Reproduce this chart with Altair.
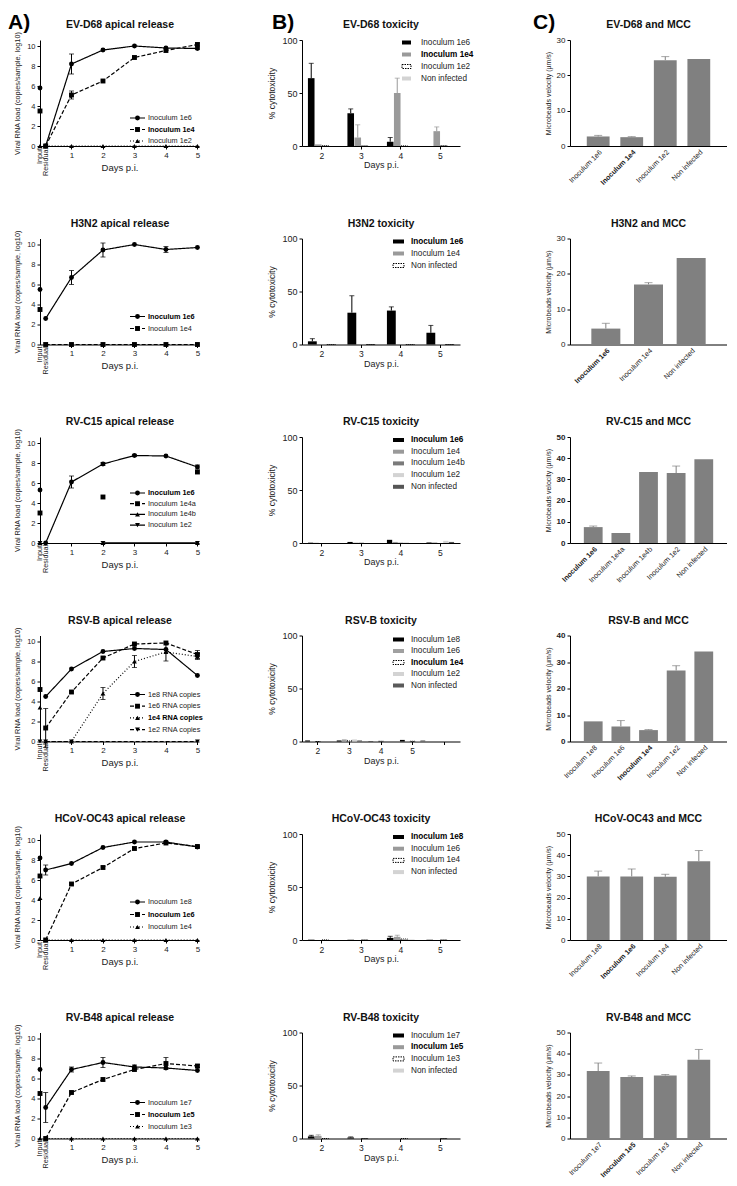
import altair as alt
import pandas as pd

FONT = "Liberation Sans"
INK = "#222222"

# ---------------- Column A : viral RNA load ----------------
A_DAYS = ["Input", "Residual", "1", "2", "3", "4", "5"]
A_POS = [0, 0.18, 1, 2, 3, 4, 5]

EVD68_A_SERIES = ["Inoculum 1e6", "Inoculum 1e4", "Inoculum 1e2"]
EVD68_A_1E6 = [5.8, 0, 8.2, 9.6, 10.0, 9.8, 9.75]
EVD68_A_1E6_ERR = [0, 0, 1.0, 0, 0, 0, 0.1]
EVD68_A_1E4 = [3.5, 0, 5.1, 6.5, 8.85, 9.55, 10.15]
EVD68_A_1E4_ERR = [0, 0, 0.4, 0, 0, 0, 0.15]
EVD68_A_1E2 = [0, 0, 0, 0, 0, 0, 0]
EVD68_A_1E2_ERR = [0, 0, 0, 0, 0, 0, 0]

H3N2_A_SERIES = ["Inoculum 1e6", "Inoculum 1e4"]
H3N2_A_1E6 = [5.5, 2.6, 6.7, 9.45, 10.0, 9.5, 9.7]
H3N2_A_1E6_ERR = [0, 0, 0.7, 0.7, 0, 0.3, 0]
H3N2_A_1E4 = [3.5, 0, 0, 0, 0, 0, 0]
H3N2_A_1E4_ERR = [0, 0, 0, 0, 0, 0, 0]

RVC15_A_SERIES = ["Inoculum 1e6", "Inoculum 1e4a", "Inoculum 1e4b", "Inoculum 1e2"]
RVC15_A_1E6 = [5.3, 0, 6.1, 7.9, 8.75, 8.7, 7.6]
RVC15_A_1E6_ERR = [0, 0, 0.6, 0.15, 0.1, 0, 0.2]
RVC15_A_1E4A = [3.0, None, None, 4.6, None, None, 7.1]
RVC15_A_1E4A_ERR = [0, 0, 0, 0, 0, 0, 0]
RVC15_A_1E4B = [0, None, None, 0, None, None, 0]
RVC15_A_1E4B_ERR = [0, 0, 0, 0, 0, 0, 0]
RVC15_A_1E2 = [0, None, None, 0, None, None, 0]
RVC15_A_1E2_ERR = [0, 0, 0, 0, 0, 0, 0]

RSVB_A_SERIES = ["1e8 RNA copies", "1e6 RNA copies", "1e4 RNA copies", "1e2 RNA copies"]
RSVB_A_1E8 = [None, 4.5, 7.25, 9.0, 9.3, 9.2, 6.6]
RSVB_A_1E8_ERR = [0, 0, 0, 0, 0, 0, 0]
RSVB_A_1E6 = [5.2, 1.35, 4.95, 8.35, 9.75, 9.85, 8.7]
RSVB_A_1E6_ERR = [0, 1.95, 0, 0, 0, 0, 0.4]
RSVB_A_1E4 = [3.4, 0, 0, 4.8, 8.0, 8.95, 8.5]
RSVB_A_1E4_ERR = [0, 0, 0, 0.6, 0.6, 0.9, 0.3]
RSVB_A_1E2 = [0, 0, 0, None, None, None, 0]
RSVB_A_1E2_ERR = [0, 0, 0, 0, 0, 0, 0]

OC43_A_SERIES = ["Inoculum 1e8", "Inoculum 1e6", "Inoculum 1e4"]
OC43_A_1E8 = [8.2, 7.0, 7.65, 9.25, 9.8, 9.8, 9.3]
OC43_A_1E8_ERR = [0, 0.5, 0, 0, 0, 0, 0]
OC43_A_1E6 = [6.4, 0, 5.6, 7.25, 9.15, 9.7, 9.35]
OC43_A_1E6_ERR = [0, 0, 0, 0, 0, 0, 0]
OC43_A_1E4 = [4.2, 0, 0, 0, 0, 0, 0]
OC43_A_1E4_ERR = [0, 0, 0, 0, 0, 0, 0]

RVB48_A_SERIES = ["Inoculum 1e7", "Inoculum 1e5", "Inoculum 1e3"]
RVB48_A_1E7 = [6.9, 3.1, 6.9, 7.6, 7.15, 7.05, 6.8]
RVB48_A_1E7_ERR = [0, 1.5, 0.25, 0.5, 0.2, 0, 0]
RVB48_A_1E5 = [4.5, 0, 4.6, 5.9, 6.9, 7.5, 7.25]
RVB48_A_1E5_ERR = [0, 0, 0, 0, 0, 0.6, 0.15]
RVB48_A_1E3 = [0, 0, 0, 0, 0, 0, 0]
RVB48_A_1E3_ERR = [0, 0, 0, 0, 0, 0, 0]

# ---------------- Column B : cytotoxicity ----------------
B_DAYS = ["2", "3", "4", "5"]

EVD68_B_SERIES = ["Inoculum 1e6", "Inoculum 1e4", "Inoculum 1e2", "Non infected"]
EVD68_B_VALUES = [[64, 31, 4, 0], [1.5, 8, 50, 14], [0.3, 0, 0, 0.3], [0, 0, 0, 0]]
EVD68_B_ERRORS = [[14, 4, 4, 0], [0, 12, 14, 4], [0, 0, 0, 0], [0, 0, 0, 0]]

H3N2_B_SERIES = ["Inoculum 1e6", "Inoculum 1e4", "Non infected"]
H3N2_B_VALUES = [[3, 30, 32, 11], [0, 0, 0, 0.5], [0, 0, 0, 0]]
H3N2_B_ERRORS = [[2.5, 16, 3.5, 7], [0, 0, 0, 0], [0, 0, 0, 0]]

RVC15_B_SERIES = ["Inoculum 1e6", "Inoculum 1e4", "Inoculum 1e4b", "Inoculum 1e2", "Non infected"]
RVC15_B_VALUES = [[0.3, 1, 3, 0.5], [0.2, 0.3, 1, 0.5], [0, 0.3, 0.3, 0], [0, 0, 0.5, 2], [0, 0, 0, 1]]
RVC15_B_ERRORS = [[0, 0, 0, 0], [0, 0, 0, 0], [0, 0, 0, 0], [0, 0, 0, 0], [0, 0, 0, 0]]

RSVB_B_SERIES = ["Inoculum 1e8", "Inoculum 1e6", "Inoculum 1e4", "Inoculum 1e2", "Non infected"]
RSVB_B_VALUES = [[1, 1, 0.3, 1.5], [0.3, 2, 0.3, 0.5], [0, 1, 0.3, 0.3], [0, 2, 0, 0.3], [0, 1, 0, 1]]
RSVB_B_ERRORS = [[0, 0, 0, 0], [0, 0, 0, 0], [0, 2, 0, 0], [0, 0, 0, 0], [0, 0, 0, 0]]

OC43_B_SERIES = ["Inoculum 1e8", "Inoculum 1e6", "Inoculum 1e4", "Non infected"]
OC43_B_VALUES = [[0.3, 0.3, 2, 0.3], [0, 0, 3, 0], [0, 0, 1, 0], [0, 0, 0.5, 0]]
OC43_B_ERRORS = [[0, 0, 1.5, 0], [0, 0, 1.5, 0], [0, 0, 0, 0], [0, 0, 0, 0]]

RVB48_B_SERIES = ["Inoculum 1e7", "Inoculum 1e5", "Inoculum 1e3", "Non infected"]
RVB48_B_VALUES = [[2, 1, 0, 0], [2.5, 0.5, 0, 0], [0, 0, 0, 0], [0, 0, 0, 0]]
RVB48_B_ERRORS = [[1, 0.5, 0, 0], [1, 0, 0, 0], [0, 0, 0, 0], [0, 0, 0, 0]]

# ---------------- Column C : mucociliary clearance ----------------
EVD68_C_CATS = ["Inoculum 1e6", "Inoculum 1e4", "Inoculum 1e2", "Non infected"]
EVD68_C_VALUES = [2.7, 2.5, 24.3, 24.6]
EVD68_C_ERRORS = [0.3, 0.15, 1.0, 0]

H3N2_C_CATS = ["Inoculum 1e6", "Inoculum 1e4", "Non infected"]
H3N2_C_VALUES = [4.5, 17.0, 24.5]
H3N2_C_ERRORS = [1.5, 0.5, 0]

RVC15_C_CATS = ["Inoculum 1e6", "Inoculum 1e4a", "Inoculum 1e4b", "Inoculum 1e2", "Non infected"]
RVC15_C_VALUES = [7.5, 4.7, 33.5, 33.0, 39.5]
RVC15_C_ERRORS = [0.5, 0, 0, 3.3, 0]

RSVB_C_CATS = ["Inoculum 1e8", "Inoculum 1e6", "Inoculum 1e4", "Inoculum 1e2", "Non infected"]
RSVB_C_VALUES = [7.6, 5.7, 4.3, 26.8, 34.0]
RSVB_C_ERRORS = [0, 2.2, 0.2, 1.8, 0]

OC43_C_CATS = ["Inoculum 1e8", "Inoculum 1e6", "Inoculum 1e4", "Non infected"]
OC43_C_VALUES = [30.0, 30.0, 29.8, 37.2]
OC43_C_ERRORS = [2.5, 3.5, 1.2, 5.0]

RVB48_C_CATS = ["Inoculum 1e7", "Inoculum 1e5", "Inoculum 1e3", "Non infected"]
RVB48_C_VALUES = [31.8, 29.0, 29.7, 37.2]
RVB48_C_ERRORS = [3.8, 0.5, 0.5, 4.8]

# ---------------- styles ----------------
SOLID, DASHED, DOTTED = [1, 0], [4, 2], [1, 2]
W_A, W_B, W_BR, W_C, H = 159, 165, 158, 157, 106
GRAY_C = "#808080"
PAT = "pattern"


def title_layer(text, cx):
    return alt.Chart(alt.Data(values=[{"t": text}])).mark_text(
        font=FONT, fontSize=10.5, fontWeight="bold", align="center", baseline="middle", color="#111"
    ).encode(x=alt.value(cx), y=alt.value(-15), text="t:N")


def letter_layers(letter, dx):
    txt = alt.Chart(alt.Data(values=[{"t": letter}])).mark_text(
        font=FONT, fontSize=21, fontWeight="bold", align="left", baseline="top", color="black"
    ).encode(x=alt.value(dx), y=alt.value(-28), text="t:N")
    # transparent spacer so the letter's full text box stays inside the page
    spacer = alt.Chart(alt.Data(values=[{"t": letter}])).mark_rule(opacity=0).encode(
        x=alt.value(dx), x2=alt.value(dx + 10), y=alt.value(-31.5))
    return [txt, spacer]


def panel_a(ttl, series, values, errors, lines, dashes, shapes, bold, ly0, ldy, letter=None):
    rows = []
    for s, vals, errs in zip(series, values, errors):
        for lab, pos, v, e in zip(A_DAYS, A_POS, vals, errs):
            if v is None:
                continue
            rows.append({"series": s, "day": lab, "x": pos, "y": v, "lo": v - e, "hi": v + e,
                         "err": e, "line": (lab != "Input") and (s in lines)})
    df = pd.DataFrame(rows)
    xs = alt.Scale(domain=[0, 5.05], nice=False, zero=False)
    ys = alt.Scale(domain=[0, 10.6], nice=False)
    xax = alt.Axis(values=[1, 2, 3, 4, 5], format="d", title="Days p.i.", labelFontSize=8,
                   titleFontSize=9.5, labelPadding=2, titlePadding=3)
    yax = alt.Axis(values=[0, 2, 4, 6, 8, 10], format="d", title="Viral RNA load (copies/sample, log10)",
                   labelFontSize=7.5, titleFontSize=7.3, labelPadding=2, titlePadding=5)
    X = alt.X("x:Q", scale=xs, axis=xax)
    dash = alt.StrokeDash("series:N", scale=alt.Scale(domain=series, range=dashes), legend=None)
    shape = alt.Shape("series:N", scale=alt.Scale(domain=series, range=shapes), legend=None)
    base = alt.Chart(df)
    line = base.transform_filter("datum.line").mark_line(color="black", strokeWidth=1.2).encode(
        X, alt.Y("y:Q", scale=ys, axis=yax), dash)
    pts = base.mark_point(filled=True, color="black", size=24, opacity=1).encode(
        X, alt.Y("y:Q", scale=ys, axis=yax), shape)
    eb = base.transform_filter("datum.err > 0")
    erule = eb.mark_rule(color="black", strokeWidth=1).encode(
        X, alt.Y("lo:Q", scale=ys, axis=yax), alt.Y2("hi:Q"))
    ecap_hi = eb.mark_tick(orient="horizontal", size=5, thickness=1, color="black").encode(
        X, alt.Y("hi:Q", scale=ys, axis=yax))
    ecap_lo = eb.mark_tick(orient="horizontal", size=5, thickness=1, color="black").encode(
        X, alt.Y("lo:Q", scale=ys, axis=yax))
    labdf = pd.DataFrame({"x": A_POS[:2], "lab": A_DAYS[:2]})
    labs = alt.Chart(labdf).mark_text(angle=270, align="right", baseline="middle", fontSize=7.2,
                                      font=FONT, color=INK).encode(X, y=alt.value(H + 2), text="lab:N")
    ld = pd.DataFrame({"series": series, "ly": [ly0 + i * ldy for i in range(len(series))],
                       "bold": [s == bold for s in series]})
    LY = alt.Y("ly:Q", scale=None, axis=None)
    lrule = alt.Chart(ld).mark_rule(color="black", strokeWidth=1.2).encode(
        x=alt.value(90), x2=alt.value(105), y=LY, strokeDash=dash)
    lpt = alt.Chart(ld).mark_point(filled=True, color="black", size=24, opacity=1).encode(
        x=alt.value(97.5), y=LY, shape=shape)
    ltn = alt.Chart(ld).transform_filter("!datum.bold").mark_text(
        align="left", baseline="middle", fontSize=7.3, font=FONT, color=INK).encode(
        x=alt.value(108), y=LY, text="series:N")
    ltb = alt.Chart(ld).transform_filter("datum.bold").mark_text(
        align="left", baseline="middle", fontSize=7.3, font=FONT, color="black", fontWeight="bold").encode(
        x=alt.value(108), y=LY, text="series:N")
    layers = [line, erule, ecap_hi, ecap_lo, pts, labs, lrule, lpt, ltn, ltb, title_layer(ttl, 80)]
    if letter:
        layers += letter_layers(letter, -32)
    return alt.layer(*layers).properties(width=W_A, height=H)


def panel_b(ttl, series, colors, values, errors, bold, days, lx, ly0, ldy, pi=0.3, po=0.15, letter=None):
    rows = []
    for s, vals, errs in zip(series, values, errors):
        for d, v, e in zip(B_DAYS, vals, errs):
            rows.append({"series": s, "day": d, "v": v, "hi": v + e, "err": e,
                         "pattern": colors[series.index(s)] == PAT})
    df = pd.DataFrame(rows)
    rng = ["white" if c == PAT else c for c in colors]
    X = alt.X("day:N", scale=alt.Scale(domain=days, range=[0, W_BR], paddingInner=pi, paddingOuter=po),
              axis=alt.Axis(title="Days p.i.", labelAngle=0, labelFontSize=8.5, titleFontSize=9,
                            labelPadding=2, titlePadding=1))
    XO = alt.XOffset("series:N", scale=alt.Scale(domain=series, paddingInner=0.06))
    ys = alt.Scale(domain=[0, 100], nice=False)
    yax = alt.Axis(values=[0, 50, 100], title="% cytotoxicity", labelFontSize=9, titleFontSize=8.5,
                   labelPadding=2, titlePadding=5)
    C = alt.Color("series:N", scale=alt.Scale(domain=series, range=rng), legend=None)
    base = alt.Chart(df)
    bars = base.transform_filter("!datum.pattern").mark_bar().encode(X, XO, alt.Y("v:Q", scale=ys, axis=yax), C)
    pbars = base.transform_filter("datum.pattern").mark_bar(
        fill="white", stroke="black", strokeWidth=0.8, strokeDash=[1, 1]).encode(
        X, XO, alt.Y("v:Q", scale=ys, axis=yax))
    eb = base.transform_filter("datum.err > 0")
    erule = eb.mark_rule(strokeWidth=1).encode(X, XO, alt.Y("v:Q", scale=ys, axis=yax), alt.Y2("hi:Q"), C)
    ecap = eb.mark_tick(orient="horizontal", size=5, thickness=1).encode(
        X, XO, alt.Y("hi:Q", scale=ys, axis=yax), C)
    ld = pd.DataFrame({"series": series,
                       "y0": [ly0 + i * ldy - 2 for i in range(len(series))],
                       "y1": [ly0 + i * ldy + 2 for i in range(len(series))],
                       "ly": [ly0 + i * ldy for i in range(len(series))],
                       "bold": [s == bold for s in series],
                       "pattern": [c == PAT for c in colors]})
    sx0, sx1, tx = lx
    lsym = alt.Chart(ld).transform_filter("!datum.pattern").mark_rect().encode(
        x=alt.value(sx0), x2=alt.value(sx1), y=alt.Y("y0:Q", scale=None, axis=None), y2="y1:Q", color=C)
    lpat = alt.Chart(ld).transform_filter("datum.pattern").mark_rect(
        fill="white", stroke="black", strokeWidth=1, strokeDash=[1.5, 1]).encode(
        x=alt.value(sx0), x2=alt.value(sx1), y=alt.Y("y0:Q", scale=None, axis=None), y2="y1:Q")
    LY = alt.Y("ly:Q", scale=None, axis=None)
    ltn = alt.Chart(ld).transform_filter("!datum.bold").mark_text(
        align="left", baseline="middle", fontSize=8.2, font=FONT, color=INK).encode(
        x=alt.value(tx), y=LY, text="series:N")
    ltb = alt.Chart(ld).transform_filter("datum.bold").mark_text(
        align="left", baseline="middle", fontSize=8.2, font=FONT, color="black", fontWeight="bold").encode(
        x=alt.value(tx), y=LY, text="series:N")
    layers = [bars, pbars, erule, ecap, lsym, lpat, ltn, ltb, title_layer(ttl, W_BR / 2)]
    if letter:
        layers += letter_layers(letter, -30)
    return alt.layer(*layers).properties(width=W_B, height=H)


def panel_c(ttl, cats, values, errors, bold, ymax, bold_ticks=False, letter=None):
    df = pd.DataFrame({"cat": cats, "v": values, "hi": [v + e for v, e in zip(values, errors)], "err": errors})
    cond = {"condition": {"test": f"datum.value === '{bold}'", "value": "bold"}, "value": "normal"}
    X = alt.X("cat:N", sort=cats, scale=alt.Scale(domain=cats, paddingInner=0.32, paddingOuter=0.5),
              axis=alt.Axis(title=None, labelAngle=-45, labelAlign="right", labelBaseline="top",
                            labelFontSize=7.2, labelFontWeight=cond, ticks=False, labelPadding=2))
    ys = alt.Scale(domain=[0, ymax], nice=False)
    yax = alt.Axis(values=list(range(0, ymax + 1, 10)), title="Microbeads velocity (µm/s)", labelFontSize=8,
                   labelFontWeight="bold" if bold_ticks else "normal",
                   titleFontSize=7, labelPadding=2, titlePadding=5)
    base = alt.Chart(df)
    bars = base.mark_bar(color=GRAY_C).encode(X, alt.Y("v:Q", scale=ys, axis=yax))
    eb = base.transform_filter("datum.err > 0")
    erule = eb.mark_rule(color=GRAY_C, strokeWidth=1).encode(X, alt.Y("v:Q", scale=ys, axis=yax), alt.Y2("hi:Q"))
    ecap = eb.mark_tick(orient="horizontal", size=8, thickness=1, color=GRAY_C).encode(
        X, alt.Y("hi:Q", scale=ys, axis=yax))
    layers = [bars, erule, ecap, title_layer(ttl, W_C / 2)]
    if letter:
        layers += letter_layers(letter, -37)
    return alt.layer(*layers).properties(width=W_C, height=H)


P = []
# Row 1
P.append(panel_a("EV-D68 apical release", EVD68_A_SERIES,
                 [EVD68_A_1E6, EVD68_A_1E4, EVD68_A_1E2], [EVD68_A_1E6_ERR, EVD68_A_1E4_ERR, EVD68_A_1E2_ERR],
                 EVD68_A_SERIES, [SOLID, DASHED, DOTTED], ["circle", "square", "triangle-up"],
                 "Inoculum 1e4", 78, 11.5, letter="A)"))
P.append(panel_b("EV-D68 toxicity", EVD68_B_SERIES, ["#000000", "#9a9a9a", PAT, "#d3d3d3"],
                 EVD68_B_VALUES, EVD68_B_ERRORS, "Inoculum 1e4", B_DAYS, (100, 109, 119), 2.5, 12, letter="B)"))
P.append(panel_c("EV-D68 and MCC", EVD68_C_CATS, EVD68_C_VALUES, EVD68_C_ERRORS, "Inoculum 1e4", 30, letter="C)"))
# Row 2
P.append(panel_a("H3N2 apical release", H3N2_A_SERIES,
                 [H3N2_A_1E6, H3N2_A_1E4], [H3N2_A_1E6_ERR, H3N2_A_1E4_ERR],
                 H3N2_A_SERIES, [SOLID, DASHED], ["circle", "square"], "Inoculum 1e6", 78, 12))
P.append(panel_b("H3N2 toxicity", H3N2_B_SERIES, ["#000000", "#9a9a9a", PAT],
                 H3N2_B_VALUES, H3N2_B_ERRORS, "Inoculum 1e6", B_DAYS, (91, 102, 109), 3, 12))
P.append(panel_c("H3N2 and MCC", H3N2_C_CATS, H3N2_C_VALUES, H3N2_C_ERRORS, "Inoculum 1e6", 30))
# Row 3
P.append(panel_a("RV-C15 apical release", RVC15_A_SERIES,
                 [RVC15_A_1E6, RVC15_A_1E4A, RVC15_A_1E4B, RVC15_A_1E2],
                 [RVC15_A_1E6_ERR, RVC15_A_1E4A_ERR, RVC15_A_1E4B_ERR, RVC15_A_1E2_ERR],
                 ["Inoculum 1e6", "Inoculum 1e4b", "Inoculum 1e2"], [SOLID, DASHED, SOLID, SOLID],
                 ["circle", "square", "triangle-up", "triangle-down"], "Inoculum 1e6", 56, 10.7))
P.append(panel_b("RV-C15 toxicity", RVC15_B_SERIES, ["#000000", "#9a9a9a", "#7a7a7a", "#d3d3d3", "#555555"],
                 RVC15_B_VALUES, RVC15_B_ERRORS, "Inoculum 1e6", B_DAYS, (91, 102, 109), 3, 11.7))
P.append(panel_c("RV-C15 and MCC", RVC15_C_CATS, RVC15_C_VALUES, RVC15_C_ERRORS, "Inoculum 1e6", 50,
                 bold_ticks=True))
# Row 4
P.append(panel_a("RSV-B apical release", RSVB_A_SERIES,
                 [RSVB_A_1E8, RSVB_A_1E6, RSVB_A_1E4, RSVB_A_1E2],
                 [RSVB_A_1E8_ERR, RSVB_A_1E6_ERR, RSVB_A_1E4_ERR, RSVB_A_1E2_ERR],
                 RSVB_A_SERIES, [SOLID, DASHED, DOTTED, DASHED],
                 ["circle", "square", "triangle-up", "triangle-down"], "1e4 RNA copies", 59, 11.7))
P.append(panel_b("RSV-B toxicity", RSVB_B_SERIES, ["#000000", "#a0a0a0", PAT, "#d3d3d3", "#5a5a5a"],
                 RSVB_B_VALUES, RSVB_B_ERRORS, "Inoculum 1e4", B_DAYS + [" "], (91, 102, 109), 4, 11.5,
                 pi=0.2, po=0.1))
P.append(panel_c("RSV-B and MCC", RSVB_C_CATS, RSVB_C_VALUES, RSVB_C_ERRORS, "Inoculum 1e4", 40,
                 bold_ticks=True))
# Row 5
P.append(panel_a("HCoV-OC43 apical release", OC43_A_SERIES,
                 [OC43_A_1E8, OC43_A_1E6, OC43_A_1E4], [OC43_A_1E8_ERR, OC43_A_1E6_ERR, OC43_A_1E4_ERR],
                 OC43_A_SERIES, [SOLID, DASHED, DOTTED], ["circle", "square", "triangle-up"],
                 "Inoculum 1e6", 68, 12.5))
P.append(panel_b("HCoV-OC43 toxicity", OC43_B_SERIES, ["#000000", "#9a9a9a", PAT, "#d3d3d3"],
                 OC43_B_VALUES, OC43_B_ERRORS, "Inoculum 1e8", B_DAYS, (91, 102, 109), 3, 11.7))
P.append(panel_c("HCoV-OC43 and MCC", OC43_C_CATS, OC43_C_VALUES, OC43_C_ERRORS, "Inoculum 1e6", 50))
# Row 6
P.append(panel_a("RV-B48 apical release", RVB48_A_SERIES,
                 [RVB48_A_1E7, RVB48_A_1E5, RVB48_A_1E3], [RVB48_A_1E7_ERR, RVB48_A_1E5_ERR, RVB48_A_1E3_ERR],
                 RVB48_A_SERIES, [SOLID, DASHED, DOTTED], ["circle", "square", "triangle-up"],
                 "Inoculum 1e5", 70, 12))
P.append(panel_b("RV-B48 toxicity", RVB48_B_SERIES, ["#000000", "#9a9a9a", PAT, "#d3d3d3"],
                 RVB48_B_VALUES, RVB48_B_ERRORS, "Inoculum 1e5", B_DAYS, (91, 102, 109), 3, 11.7))
P.append(panel_c("RV-B48 and MCC", RVB48_C_CATS, RVB48_C_VALUES, RVB48_C_ERRORS, "Inoculum 1e5", 50))

chart = alt.concat(*P, columns=3, spacing={"row": 92.5, "column": 103}, bounds="flush", align="each").resolve_scale(
    color="independent", shape="independent", strokeDash="independent", xOffset="independent"
).properties(
    padding=0
).configure_view(stroke=None).configure_axis(
    grid=False, domainColor="black", tickColor="black", domainWidth=1, tickWidth=1, tickSize=3,
    labelFont=FONT, titleFont=FONT, labelColor=INK, titleColor=INK, titleFontWeight="normal"
)

chart.save("out.html", embed_options={"renderer": "svg", "actions": False})
